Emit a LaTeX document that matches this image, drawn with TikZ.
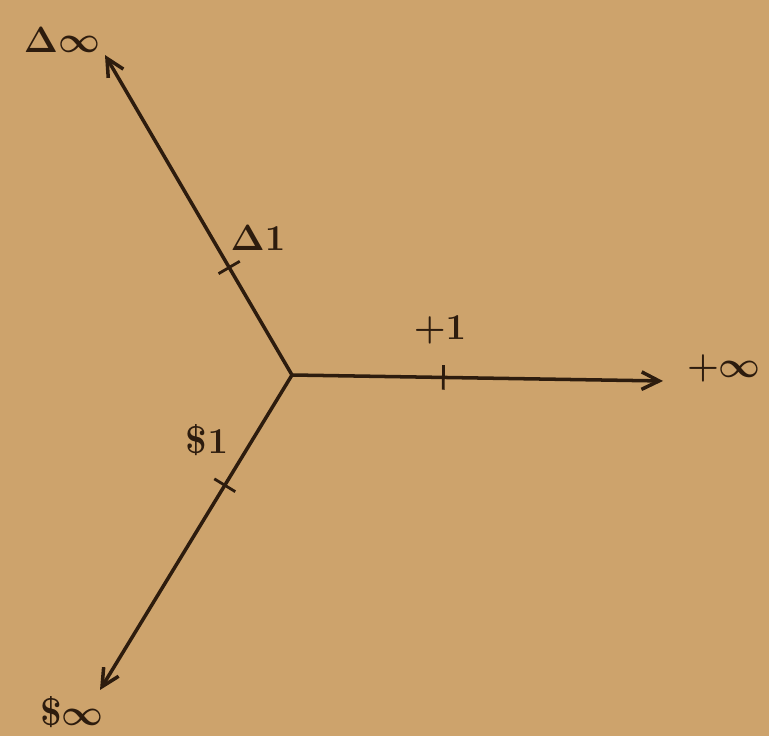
\documentclass[tikz,border=0pt]{standalone}
\usepackage{amsmath,amssymb}
\usepackage{tikz}
\usetikzlibrary{arrows.meta,calc}
\usepackage{xcolor}
\definecolor{paper}{RGB}{205,163,108}
\definecolor{ink}{RGB}{45,28,14}

\begin{document}
\begin{tikzpicture}[
  x=0.02cm, y=-0.02cm,
  axisline/.style={draw=ink, line width=2pt, -{Straight Barb[length=3.5mm,width=3.5mm]}},
  tickmark/.style={draw=ink, line width=1.6pt},
  axislabel/.style={text=ink, font=\fontsize{22}{26}\selectfont\boldmath\bfseries, inner sep=1pt},
  >=Stealth
]

% Background paper
\fill[paper] (0,0) rectangle (769,736);
\useasboundingbox (0,0) rectangle (769,736);

% Origin and arm ends
\coordinate (o) at (292,375);
\coordinate (eplus) at (663,381);
\coordinate (edelta) at (105,55);
\coordinate (edollar) at (100,690);

% Unit ticks
\coordinate (tplus) at ($(o)!0.408!(eplus)$);
\coordinate (tdelta) at ($(o)!0.336!(edelta)$);
\coordinate (tdollar) at ($(o)!0.35!(edollar)$);

% Arms
\draw[axisline] (o) -- (eplus);
\draw[axisline] (o) -- (edelta);
\draw[axisline] (o) -- (edollar);

\draw[tickmark] ($(tplus)!7pt!90:(eplus)$) -- ($(tplus)!7pt!-90:(eplus)$);
\draw[tickmark] ($(tdelta)!7pt!90:(edelta)$) -- ($(tdelta)!7pt!-90:(edelta)$);
\draw[tickmark] ($(tdollar)!7pt!90:(edollar)$) -- ($(tdollar)!7pt!-90:(edollar)$);

% Labels
\node[axislabel] (ldeltainf) at (62,40) {$\Delta\infty$};
\node[axislabel] (ldeltaone) at (258,238) {$\Delta 1$};
\node[axislabel] (lplusone) at (440,330) {$+1$};
\node[axislabel] (lplusinf) at (724,368) {$+\infty$};
\node[axislabel] (ldollarone) at (207,440) {\$$1$};
\node[axislabel] (ldollarinf) at (72,712) {\$$\infty$};

\end{tikzpicture}
\end{document}
